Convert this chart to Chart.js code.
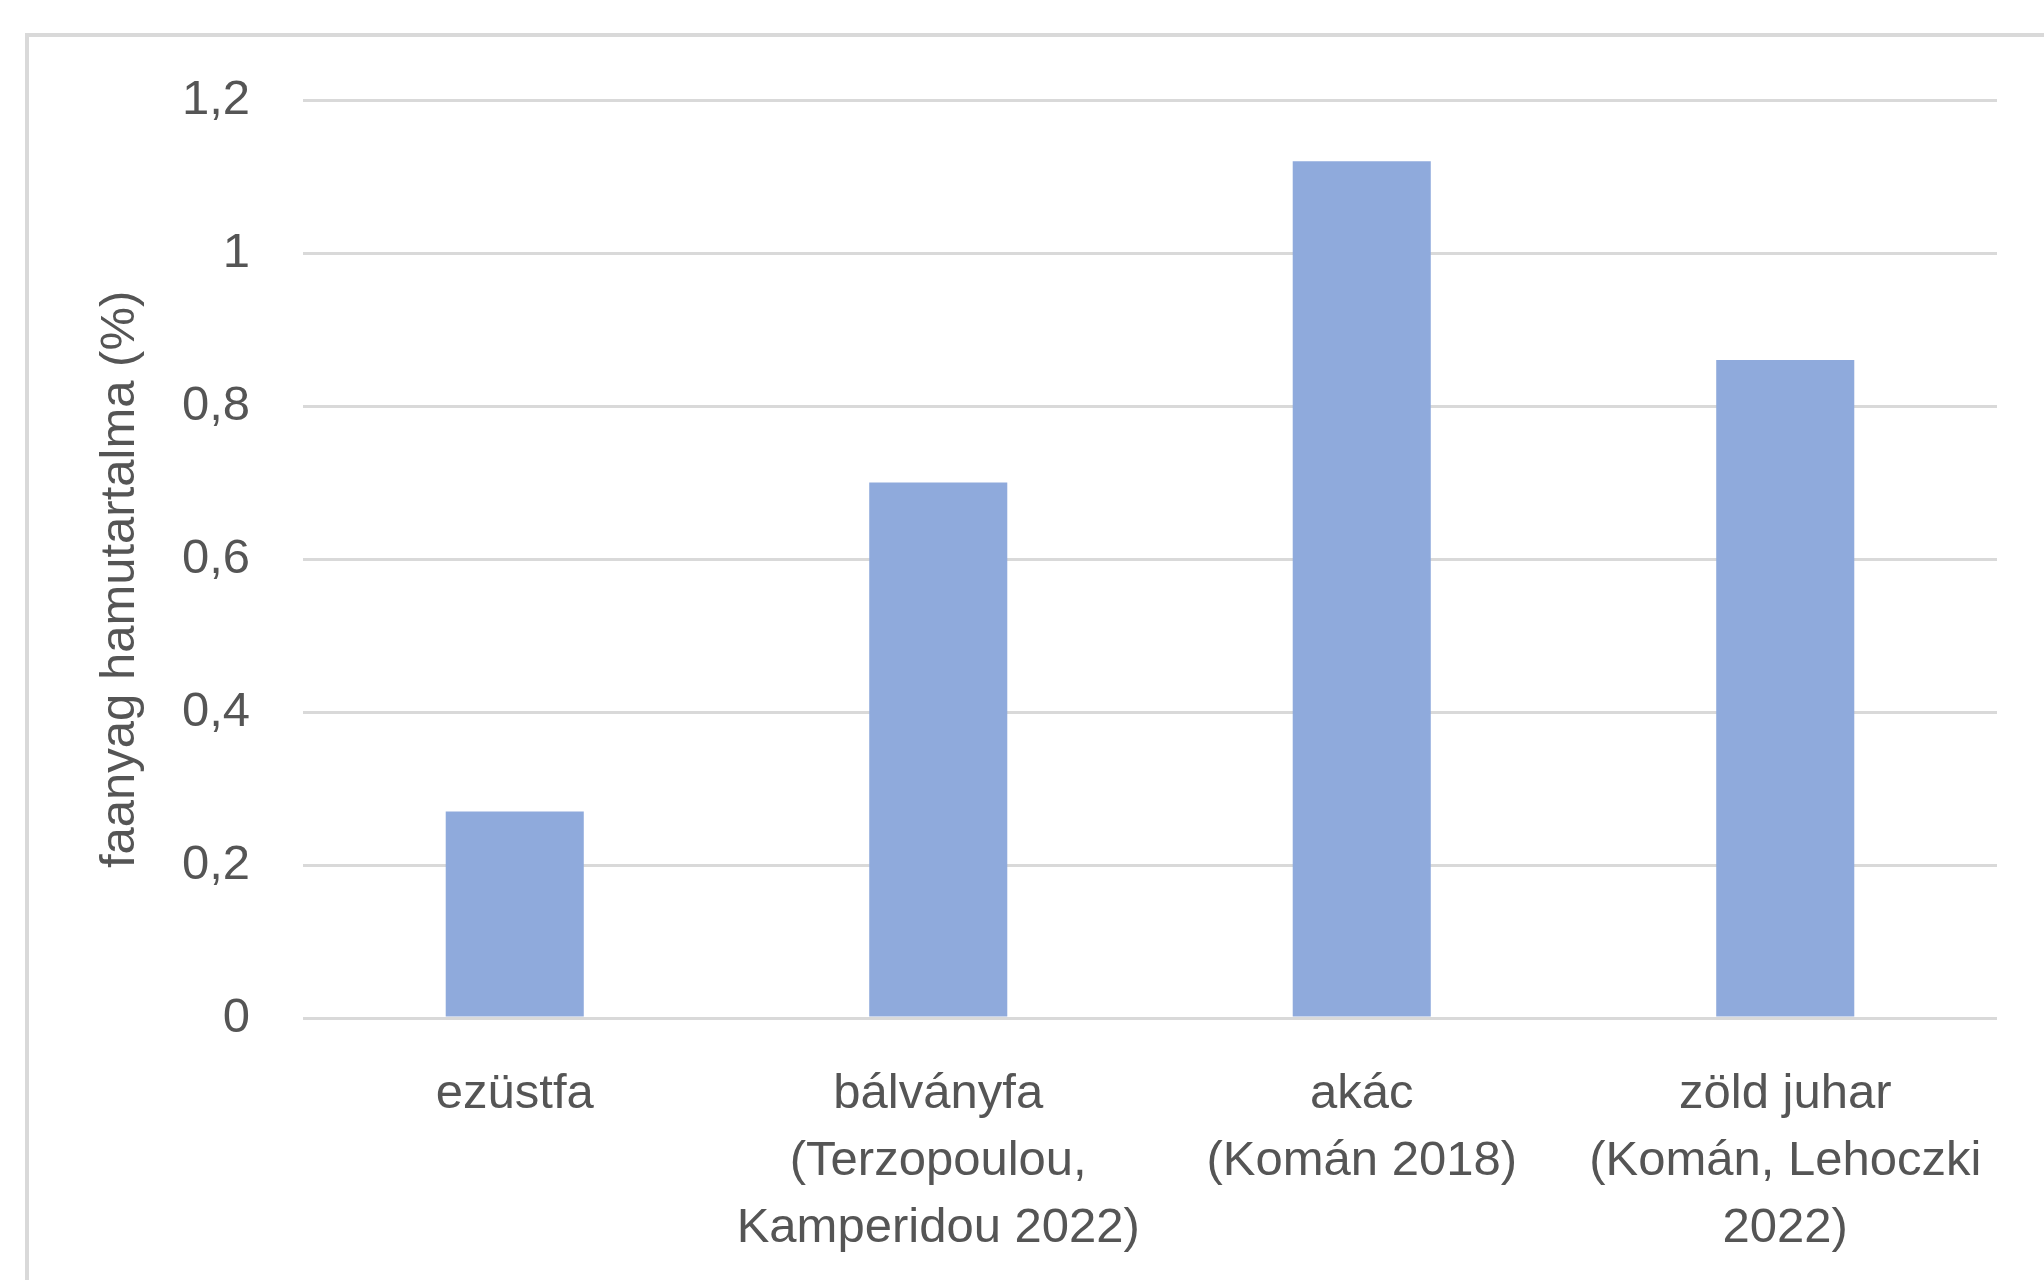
<!DOCTYPE html>
<html lang="hu">
<head>
<meta charset="utf-8">
<title>faanyag hamutartalma</title>
<script src="https://cdn.jsdelivr.net/npm/chart.js@4.4.1/dist/chart.umd.min.js"></script>
<style>
    html, body { margin: 0; padding: 0; background: #ffffff; overflow: hidden; }
    #frame {
        position: absolute;
        left: 25px;
        top: 33px;
        width: 2100px;
        height: 1300px;
        border-left: 4px solid #d9d9d9;
        border-top: 4px solid #d9d9d9;
    }
    #wrap { position: absolute; left: 0; top: 0; width: 2044px; height: 1280px; }
</style>
</head>
<body>
<div id="frame"></div>
<div id="wrap"><canvas id="chart"></canvas></div>
<script>
// Adatok
const categories = [
    ['ezüstfa'],
    ['bálványfa', '(Terzopoulou,', 'Kamperidou 2022)'],
    ['akác', '(Komán 2018)'],
    ['zöld juhar', '(Komán, Lehoczki', '2022)']
];
const ashValues = [0.27, 0.70, 1.12, 0.86];
const yTickLabels = ['0', '0,2', '0,4', '0,6', '0,8', '1', '1,2'];
const yTitle = 'faanyag hamutartalma (%)';

const textColor = '#555555';
const fontFamily = '"Liberation Sans", Arial, sans-serif';

const ctx = document.getElementById('chart').getContext('2d');
new Chart(ctx, {
    type: 'bar',
    data: {
        labels: categories,
        datasets: [{
            data: ashValues,
            backgroundColor: '#8faadc',
            borderWidth: 0,
            barPercentage: 0.326,
            categoryPercentage: 1
        }]
    },
    options: {
        responsive: true,
        maintainAspectRatio: false,
        animation: false,
        layout: { padding: { top: 100, right: 47, bottom: 0, left: 0 } },
        plugins: {
            legend: { display: false },
            tooltip: { enabled: false }
        },
        scales: {
            x: {
                grid: { display: false, drawTicks: false },
                border: { display: false },
                ticks: {
                    color: textColor,
                    font: { family: fontFamily, size: 49, lineHeight: '67px' },
                    padding: 43,
                    maxRotation: 0,
                    autoSkip: false
                },
                afterFit: (scale) => { scale.height = 262; }
            },
            y: {
                min: 0,
                max: 1.2,
                grid: { color: '#d9d9d9', lineWidth: 3, drawTicks: false },
                border: { display: false },
                ticks: {
                    stepSize: 0.2,
                    color: textColor,
                    font: { family: fontFamily, size: 49 },
                    padding: 53,
                    callback: (value, index) => yTickLabels[index]
                },
                title: {
                    display: true,
                    // a szóközök kicsit lejjebb tolják a feliratot, mint az eredetin
                    text: yTitle + '   ',
                    color: textColor,
                    font: { family: fontFamily, size: 49 },
                    padding: { top: 91, bottom: 0 }
                },
                afterFit: (scale) => { scale.width = 303; }
            }
        }
    }
});
</script>
</body>
</html>
